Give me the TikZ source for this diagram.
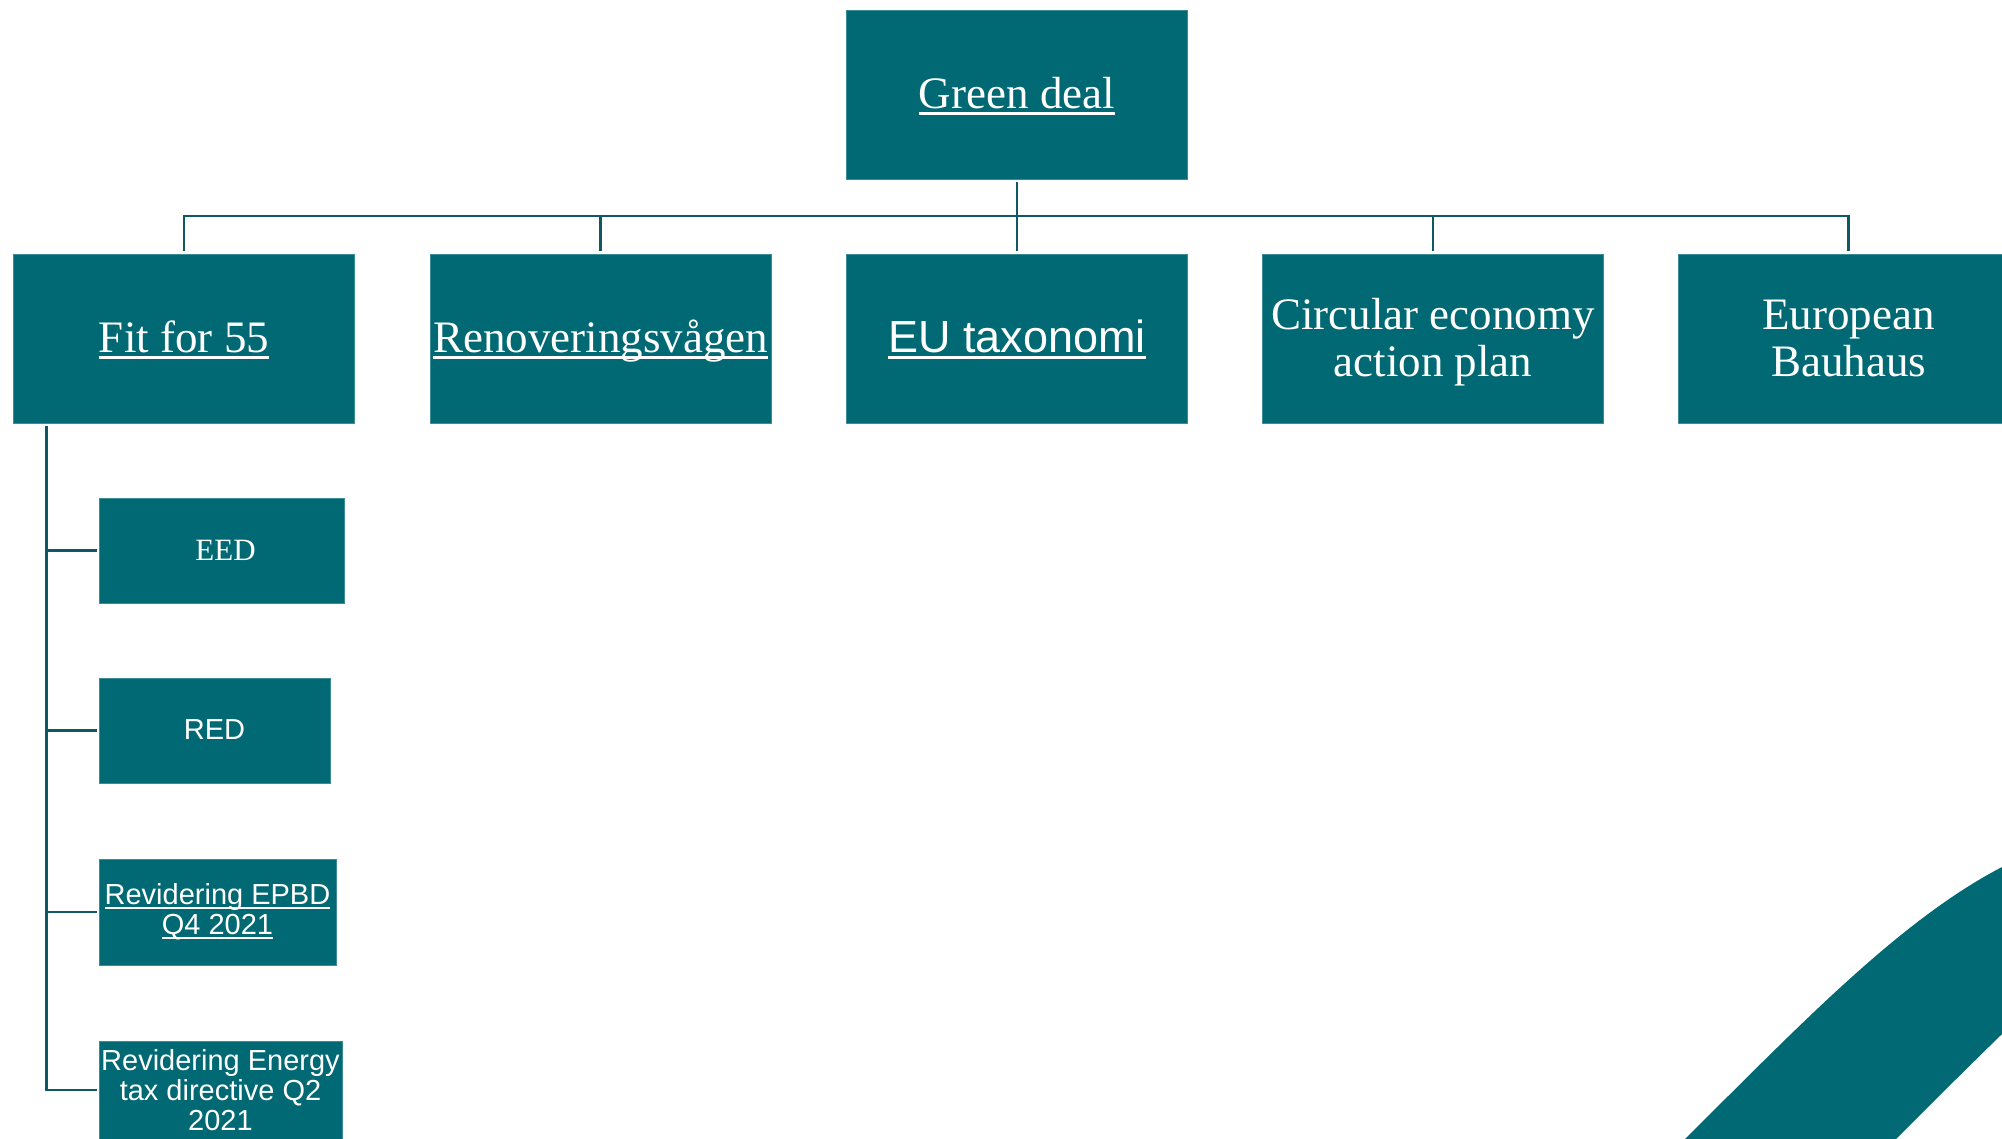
\documentclass[tikz,border=0pt]{standalone}
\usepackage{fontspec}
\setmainfont{Liberation Serif}
\newfontfamily\arialf{Liberation Sans}
\usetikzlibrary{calc}
\definecolor{boxfill}{HTML}{006974}
\definecolor{boxedge}{HTML}{3A8C95}
\definecolor{linecol}{HTML}{0E5866}
\newcommand\myul[1]{\setbox0\hbox{#1}\rlap{\rule[-0.14em]{\wd0}{0.06em}}\box0}
\begin{document}
\begin{tikzpicture}[x=1pt,y=-1pt,
  box/.style={rectangle, fill=boxfill, draw=boxedge, line width=0.8pt, text=white, inner sep=0pt},
  big/.style={box, minimum width=341pt, minimum height=169pt, font=\fontsize{45}{47}\selectfont},
  bigone/.style={big, text height=33pt, text depth=5pt},
  small/.style={box, minimum height=105pt},
  sansfont/.style={font=\arialf\fontsize{29}{30}\selectfont},
  conn/.style={draw=linecol, line width=2.5pt}]
\useasboundingbox (0,0) rectangle (2002,1138);
\clip (0,0) rectangle (2002,1138);
\fill[white] (0,0) rectangle (2002,1138);

% swoosh
\fill[boxfill] (1680,1144) -- (1686,1138) .. controls (1800,1025) and (1900,920) .. (2002,867) -- (2010,863) -- (2010,1026) -- (2002,1034) .. controls (1960,1075) and (1930,1105) .. (1897,1138) -- (1891,1144) -- cycle;

% top level
\node[bigone] (gd) at (1017,94.5) {\myul{Green deal}};
\node[bigone] (fit) at (184,338.5) {\myul{Fit for 55}};
\node[bigone] (ren) at (600.5,338.5) {\myul{Renoveringsvågen}};
\node[bigone, font=\arialf\fontsize{45}{47}\selectfont] (eu) at (1017,338.5) {\myul{EU taxonomi}};
\node[big, align=center] (circ) at (1433,338.5) {\rule{0pt}{38pt}Circular economy\\action plan};
\node[big, align=center] (euro) at (1848.5,338.5) {European\\Bauhaus};

% sub level
\node[small, minimum width=245pt, font=\fontsize{31}{33}\selectfont, text height=22pt, text depth=2pt] (eed) at (221.5,550.5) {\hspace*{8pt}EED};
\node[small, minimum width=231pt, sansfont, text height=21pt, text depth=3pt] (red) at (214.5,730.5) {RED};
\node[small, minimum width=237pt, minimum height=106pt, align=center, sansfont] (epbd) at (217.5,912) {\myul{Revidering EPBD}\\\myul{Q4 2021}};
\node[small, minimum width=243pt, minimum height=98pt, align=center, sansfont] (tax) at (220.5,1090) {Revidering Energy\\tax directive Q2\\2021};

% connectors top
\coordinate (bus) at (1017,216);
\draw[conn] ([yshift=-3pt]gd.south) -- ([yshift=3pt]eu.north);
\draw[conn] ([yshift=3pt]fit.north) -- (fit.north |- bus) -- (euro.north |- bus) -- ([yshift=3pt]euro.north);
\draw[conn] ([yshift=3pt]ren.north) -- (ren.north |- bus);
\draw[conn] ([yshift=3pt]circ.north) -- (circ.north |- bus);

% connectors left tree
\coordinate (trunk) at ($(fit.south west)+(33.5,3)$);
\draw[conn] (trunk) |- ([xshift=-2pt]tax.west);
\draw[conn] (trunk |- eed.west) -- ([xshift=-2pt]eed.west);
\draw[conn] (trunk |- red.west) -- ([xshift=-2pt]red.west);
\draw[conn] (trunk |- epbd.west) -- ([xshift=-2pt]epbd.west);
\end{tikzpicture}
\end{document}
